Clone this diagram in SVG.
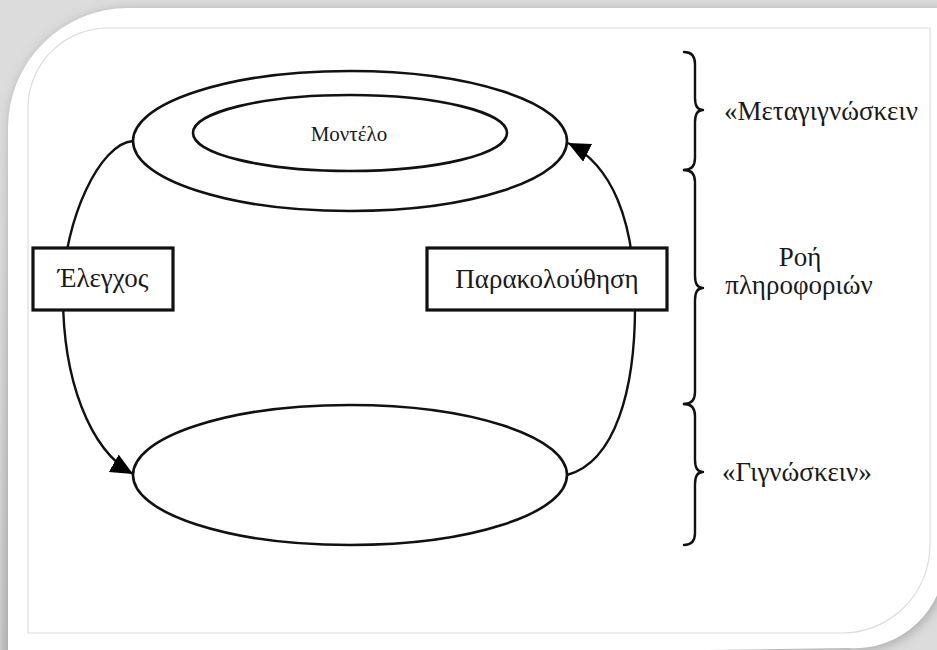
<svg xmlns="http://www.w3.org/2000/svg" width="937" height="650" viewBox="0 0 937 650">
<style>
.ln{fill:none;stroke:#111;stroke-width:2.4}
.el{fill:#fff;stroke:#111;stroke-width:2.6}
.bx{fill:#fff;stroke:#111;stroke-width:3.2}
.br{fill:none;stroke:#111;stroke-width:2.4;stroke-linejoin:round;stroke-linecap:round}
text{font-family:"Liberation Serif","Times New Roman",serif;fill:#1a1a1a}
.t{font-size:27px}
</style>
<defs>
<filter id="sh" x="-10%" y="-10%" width="120%" height="120%"><feGaussianBlur stdDeviation="6"/></filter>
<marker id="ah" markerUnits="userSpaceOnUse" markerWidth="24" markerHeight="22" refX="22" refY="10" orient="auto"><path d="M0,0 L22,10 L0,20 Z" fill="#000"/></marker>
</defs>
<g id="frame">
<rect x="0" y="0" width="937" height="650" fill="#dcdcdc"/>
<path d="M8,128 A120 120 0 0 1 128,8 L945,8 L945,558 A90 90 0 0 1 849,648 L0,660 Z" fill="#a8a8a8" filter="url(#sh)" transform="translate(2,2)"/>
<path d="M8,128 A120 120 0 0 1 128,8 L945,8 L945,558 A90 90 0 0 1 849,648 L8,660 Z" fill="#fff"/>
<path d="M28,108 A80 80 0 0 1 108,28 L930,28 L930,545 A88 88 0 0 1 842,633 L28,633 Z" fill="none" stroke="#dcdcdc" stroke-width="1.2"/>
</g>
<g id="connectors">
<path class="ln" d="M133,141 C100,143 64,220 63,290 C62,380 90,450 133,474" marker-end="url(#ah)"/>
<path class="ln" d="M567,475 C615,462 636,390 635,300 C634,220 612,165 568,143" marker-end="url(#ah)"/>
</g>
<g id="metacognition">
<ellipse class="el" cx="350" cy="141" rx="217" ry="70"/>
</g>
<g id="model">
<ellipse class="el" cx="350" cy="133" rx="157" ry="38"/>
<text x="349" y="141" font-size="21" text-anchor="middle">Μοντέλο</text>
</g>
<g id="cognition">
<ellipse class="el" cx="350" cy="475" rx="217" ry="70"/>
</g>
<g id="control">
<rect class="bx" x="33" y="248" width="140" height="62"/>
<text class="t" x="103" y="287" text-anchor="middle">Έλεγχος</text>
</g>
<g id="monitoring">
<rect class="bx" x="427" y="248" width="240" height="62"/>
<text class="t" x="547" y="288" text-anchor="middle">Παρακολούθηση</text>
</g>
<g id="braces">
<path class="br" d="M684,52 Q695,52 695,64 L695,98 Q695,110 703,110 Q695,110 695,122 L695,158 Q695,170 684,170"/>
<path class="br" d="M684,170 Q695,170 695,182 L695,276 Q695,288 703,288 Q695,288 695,300 L695,392 Q695,404 684,404"/>
<path class="br" d="M684,404 Q695,404 695,416 L695,460 Q695,472 703,472 Q695,472 695,484 L695,533 Q695,545 684,545"/>
</g>
<g id="labels">
<text class="t" x="724" y="120">«Μεταγιγνώσκειν</text>
<text class="t" x="800" y="266" text-anchor="middle">Ροή</text>
<text class="t" x="799" y="294" text-anchor="middle">πληροφοριών</text>
<text class="t" x="722" y="481">«Γιγνώσκειν»</text>
</g>
</svg>
